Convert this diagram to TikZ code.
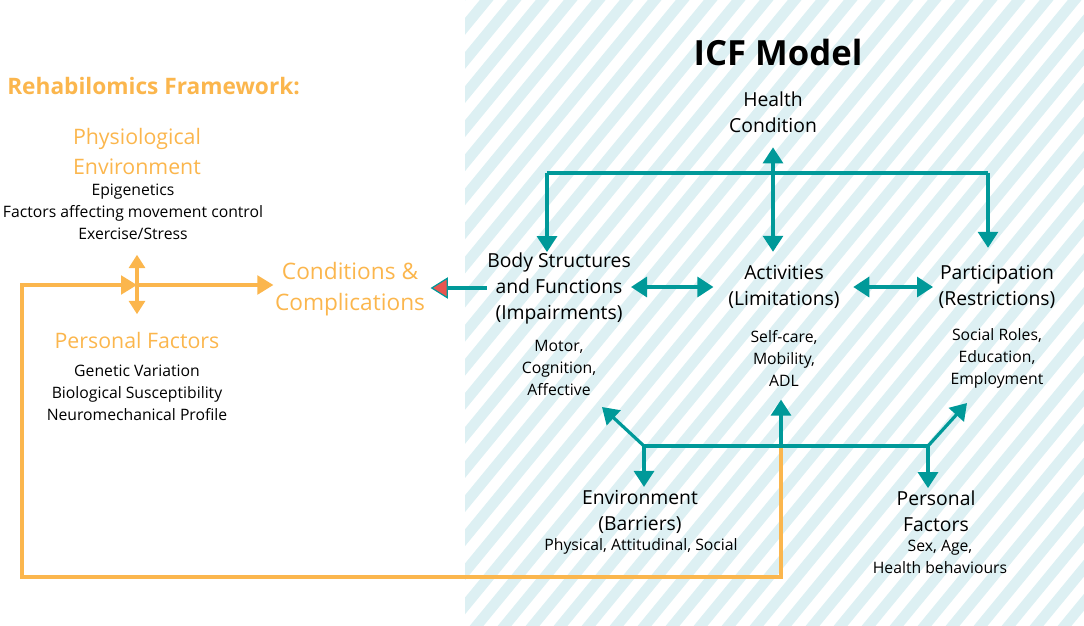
\documentclass[tikz,border=0pt]{standalone}
\usepackage{fontspec}
\setmainfont{Open Sans}
\usetikzlibrary{arrows.meta}
\definecolor{icfteal}{RGB}{0,153,153}
\definecolor{rehaborange}{RGB}{251,182,77}
\definecolor{stripeblue}{RGB}{221,240,243}
\definecolor{tipred}{RGB}{232,85,80}
\tikzset{
  tline/.style={draw=icfteal, line width=2.4pt},
  tarrow/.style={tline, -{Triangle[length=12pt,width=15pt]}},
  tboth/.style={tline, {Triangle[length=12pt,width=15pt]}-{Triangle[length=12pt,width=15pt]}},
  oline/.style={draw=rehaborange, line width=2.4pt},
  oarrow/.style={oline, -{Triangle[length=12pt,width=14pt]}},
  oboth/.style={oline, {Triangle[length=10pt,width=12pt]}-{Triangle[length=10pt,width=12pt]}},
  icfhead/.style={align=center, inner sep=0pt, font=\fontsize{14.5}{19.5}\selectfont},
  icflist/.style={align=center, inner sep=0pt, font=\fontsize{11.8}{16.5}\selectfont},
  orhead/.style={align=center, inner sep=0pt, text=rehaborange, font=\fontsize{16}{22}\selectfont},
}
\begin{document}
\begin{tikzpicture}[x=0.75pt,y=-0.75pt]
    \useasboundingbox (0,0) rectangle (1084,625);
    % striped ICF panel
    \begin{scope}
    \clip (465,0) rectangle (1084,625);
    \foreach \i in {-20,...,23}
        \draw [stripeblue, line width=8pt] (465+\i*28,640) -- ++(538,-655);
    \end{scope}

    \node (icf) at (778,52) [inner sep=0pt] [font=\fontsize{26}{30}\selectfont\bfseries] {ICF Model};
    \node (rehab) at (7,86) [anchor=west][inner sep=0pt] [text=rehaborange, font=\fontsize{17}{20}\selectfont\bfseries] {Rehabilomics Framework:};

    \node (physenv) at (137,151.5) [orhead] {Physiological\\Environment};
    \node (physlist) at (133,212) [icflist] {Epigenetics\\Factors affecting movement control\\Exercise/Stress};
    \node (perfac) at (137,340) [orhead] {Personal Factors};
    \node (perlist) at (137,393) [icflist] {Genetic Variation\\Biological Susceptibility\\Neuromechanical Profile};
    \node (cond) at (350,289) [orhead] [font=\fontsize{17}{23}\selectfont] {Conditions \&\\Complications};

    \node (health) at (773,112) [icfhead] {Health\\Condition};
    \node (body) at (559,288) [icfhead] {Body Structures\\and Functions\\(Impairments)};
    \node (bodylist) at (559,368) [icflist] {Motor,\\Cognition,\\Affective};
    \node (act) at (784,287) [icfhead] {Activities\\(Limitations)};
    \node (actlist) at (784,358) [icflist] {Self-care,\\Mobility,\\ADL};
    \node (part) at (997,287) [icfhead] {Participation\\(Restrictions)};
    \node (partlist) at (997,358) [icflist] {Social Roles,\\Education,\\Employment};
    \node (env) at (640,511.5) [icfhead] {Environment\\(Barriers)};
    \node (envlist) at (641,546) [icflist] {Physical, Attitudinal, Social};
    \node (pers) at (936,511.5) [icfhead] {Personal\\Factors};
    \node (perslist) at (940,557) [icflist] {Sex, Age,\\Health behaviours};

    \coordinate (pfx) at (137,285);
    \coordinate (loopBL) at (22,577);
    \coordinate (hcL) at (547,173);
    \coordinate (hcR) at (988,173);
    \coordinate (envhub) at (644,446);
    \coordinate (acthub) at (781,446);
    \coordinate (pershub) at (928,446);
    \coordinate (bodytip) at (602,407);
    \coordinate (parttip) at (967,403);

    % rehabilomics side
    \draw [oarrow] (acthub) |- (loopBL) |- (pfx);
    \draw [oarrow, shorten >=1pt] (pfx) -- (pfx -| cond.west);
    \draw [oboth, shorten <=11pt, shorten >=13pt] (physlist.south -| pfx) -- (perfac.north -| pfx);

    % ICF side
    \draw [tboth, {Triangle[length=13pt,width=16pt,fill=tipred,line width=0.9pt]}-, shorten <=4pt] (cond.east |- body) -- (body.west);
    \draw [tboth, shorten >=11pt] (body.east |- act) -- (act.west);
    \draw [tboth, shorten <=10pt, shorten >=4pt] (act.east) -- (part.west);
    \draw [tboth, shorten <=11pt, shorten >=10pt] (health.south) -- (health.south |- act.north);
    \draw [tline] (hcL) -- (hcR);
    \draw [tarrow] (hcL) -- (hcL |- body.north);
    \draw [tarrow, shorten >=13pt] (hcR) -- (hcR |- part.north);
    \draw [tline] (envhub) -- (pershub);
    \draw [tarrow] (envhub) -- (bodytip);
    \draw [tarrow, shorten >=2pt] (envhub) -- (envhub |- env.north);
    \draw [tarrow, shorten >=10pt] (acthub) -- (acthub |- actlist.south);
    \draw [tarrow] (pershub) -- (parttip);
    \draw [tarrow, shorten >=2pt] (pershub) -- (pershub |- pers.north);
\end{tikzpicture}
\end{document}
